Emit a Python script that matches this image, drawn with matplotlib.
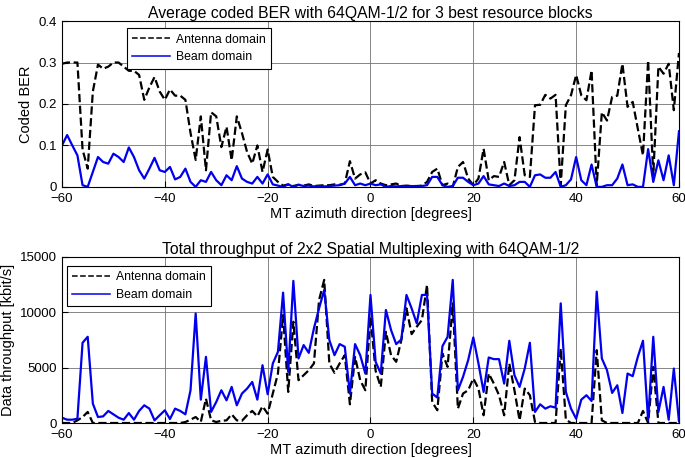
import numpy as np
import matplotlib
matplotlib.use("Agg")
import matplotlib.pyplot as plt

plt.rcParams['font.family'] = ['Liberation Sans', 'DejaVu Sans']

# ---------------- data ----------------
azimuth = np.arange(-60, 61, 1)

ber_antenna = [
    0.297, 0.30, 0.30, 0.30, 0.09, 0.044, 0.23, 0.295, 0.285, 0.29,      # -60..-51
    0.30, 0.30, 0.29, 0.28, 0.28, 0.27, 0.21, 0.24, 0.265, 0.23,         # -50..-41
    0.21, 0.235, 0.22, 0.22, 0.21, 0.13, 0.065, 0.17, 0.04, 0.18,        # -40..-31
    0.17, 0.096, 0.145, 0.064, 0.17, 0.13, 0.084, 0.056, 0.10, 0.036,    # -30..-21
    0.09, 0.024, 0.012, 0.003, 0.006, 0.002, 0.005, 0.003, 0.006, 0.002, # -20..-11
    0.003, 0.004, 0.004, 0.006, 0.005, 0.008, 0.062, 0.02, 0.03, 0.035,  # -10..-1
    0.008, 0.016, 0.008, 0.004, 0.006, 0.008, 0.002, 0.003, 0.002, 0.002, # 0..9
    0.003, 0.012, 0.036, 0.044, 0.004, 0.008, 0.0, 0.048, 0.06, 0.02,    # 10..19
    0.004, 0.02, 0.092, 0.016, 0.026, 0.024, 0.06, 0.004, 0.016, 0.12,   # 20..29
    0.028, 0.024, 0.197, 0.198, 0.222, 0.213, 0.222, 0.004, 0.197, 0.221, # 30..39
    0.27, 0.221, 0.209, 0.281, 0.004, 0.18, 0.16, 0.217, 0.22, 0.297,    # 40..49
    0.193, 0.205, 0.14, 0.076, 0.305, 0.028, 0.29, 0.273, 0.297, 0.185, # 50..59
    0.323,                                                               # 60
]

ber_beam = [
    0.10, 0.125, 0.10, 0.076, 0.004, 0.0, 0.036, 0.072, 0.06, 0.056,     # -60..-51
    0.08, 0.072, 0.06, 0.095, 0.072, 0.04, 0.02, 0.044, 0.07, 0.04,      # -50..-41
    0.036, 0.048, 0.018, 0.024, 0.044, 0.012, 0.0, 0.016, 0.012, 0.036,  # -40..-31
    0.016, 0.004, 0.028, 0.016, 0.05, 0.02, 0.012, 0.008, 0.024, 0.008,  # -30..-21
    0.03, 0.006, 0.003, 0.0, 0.006, 0.0, 0.005, 0.002, 0.003, 0.001,     # -20..-11
    0.002, 0.001, 0.002, 0.003, 0.004, 0.008, 0.024, 0.004, 0.008, 0.004, # -10..-1
    0.008, 0.004, 0.006, 0.0, 0.002, 0.001, 0.002, 0.001, 0.002, 0.001,  # 0..9
    0.002, 0.004, 0.024, 0.024, 0.004, 0.0, 0.002, 0.022, 0.022, 0.012,  # 10..19
    0.004, 0.008, 0.026, 0.006, 0.004, 0.002, 0.008, 0.002, 0.004, 0.012, # 20..29
    0.012, 0.0, 0.028, 0.03, 0.022, 0.022, 0.036, 0.0, 0.004, 0.018,     # 30..39
    0.072, 0.016, 0.004, 0.054, 0.0, 0.0, 0.004, 0.004, 0.02, 0.054,     # 40..49
    0.004, 0.006, 0.0, 0.0, 0.091, 0.012, 0.064, 0.016, 0.076, 0.004,    # 50..59
    0.134,                                                               # 60
]

thr_antenna = [
    0, 0, 0, 240, 540, 1000, 0, 0, 0, 0,                                 # -60..-51
    0, 0, 0, 0, 0, 0, 0, 0, 0, 0,                                        # -50..-41
    0, 0, 0, 0, 90, 300, 540, 100, 2200, 240,                            # -40..-31
    90, 200, 240, 785, 240, 200, 700, 1090, 600, 1510,                   # -30..-21
    845, 2660, 4470, 9750, 2810, 9150, 3870, 4320, 4770, 5380,           # -20..-11
    11110, 12930, 5380, 4530, 5380, 6130, 1690, 5980, 3870, 2960,        # -10..-1
    9600, 4710, 3260, 8240, 6130, 5530, 7490, 10360, 8030, 8700,         # 0..9
    9300, 12470, 1900, 1150, 6280, 5070, 10810, 1300, 2660, 2960,        # 10..19
    4020, 3110, 700, 4470, 3560, 2510, 700, 5380, 2960, 240,             # 20..29
    3110, 2510, 90, 0, 0, 0, 0, 6730, 300, 0,                            # 30..39
    0, 0, 0, 0, 6580, 240, 0, 0, 0, 0,                                   # 40..49
    0, 0, 0, 1090, 0, 5070, 0, 0, 0, 0,                                  # 50..59
    0,                                                                   # 60
]

thr_beam = [
    480, 300, 300, 390, 7250, 7790, 1750, 540, 600, 1090,                # -60..-51
    785, 480, 300, 900, 300, 1090, 1600, 1300, 240, 700,                 # -50..-41
    1150, 360, 1300, 1090, 785, 2960, 9900, 2110, 5980, 1000,            # -40..-31
    1900, 2960, 2050, 3260, 1600, 2660, 3110, 3710, 2110, 5220,          # -30..-21
    2600, 5375, 6430, 11780, 4620, 12840, 5830, 7040, 6340, 8550,        # -20..-11
    10360, 12020, 7490, 6130, 7130, 6890, 2660, 7130, 6130, 4470,        # -10..-1
    11570, 5530, 4470, 10210, 8400, 7130, 7550, 11570, 10360, 9000,      # 0..9
    11570, 11570, 2660, 2300, 6950, 7790, 12930, 2960, 4170, 5680,       # 10..19
    7730, 5380, 2810, 5920, 5770, 5770, 3560, 7430, 4320, 3260,          # 20..29
    4920, 7250, 1000, 1690, 1300, 1510, 1390, 10810, 2810, 1300,         # 30..39
    390, 2110, 2510, 1990, 11870, 5830, 4770, 2720, 3410, 905,           # 40..49
    4470, 4230, 5980, 7430, 240, 7790, 1000, 3260, 300, 4920,            # 50..59
    150,                                                                 # 60
]

# ---------------- figure ----------------
fig = plt.figure(figsize=(6.85, 4.58), dpi=100)
ax1 = fig.add_axes([0.0905, 0.592, 0.9007, 0.362])
ax2 = fig.add_axes([0.0905, 0.0764, 0.9007, 0.3625])

def style(ax):
    ax.set_xlim(-60, 60)
    ax.set_xticks(np.arange(-60, 61, 20))
    ax.grid(True, color='0.45', linewidth=0.6)
    ax.tick_params(direction='in', labelsize=9.5, length=4)
    ax.tick_params(axis='x', pad=4.5)
    for s in ax.spines.values():
        s.set_linewidth(0.8)

def add_legend(ax, anchor):
    leg = ax.legend(loc='upper left', bbox_to_anchor=anchor, fontsize=8.8,
                    fancybox=False, edgecolor='k', framealpha=1,
                    handlelength=3.1, handletextpad=0.45, borderpad=0.45,
                    labelspacing=0.45, borderaxespad=0.0)
    leg.get_frame().set_linewidth(0.8)
    for line in leg.get_lines():
        line.set_linewidth(1.1)

# top: coded BER
ax1.plot(azimuth, ber_antenna, 'k--', linewidth=1.6, label='Antenna domain')
ax1.plot(azimuth, ber_beam, color='#0000ee', linewidth=1.6, label='Beam domain')
style(ax1)
ax1.set_ylim(0, 0.4)
ax1.set_yticks([0, 0.1, 0.2, 0.3, 0.4])
ax1.set_yticklabels(['0', '0.1', '0.2', '0.3', '0.4'])
ax1.set_title('Average coded BER with 64QAM-1/2 for 3 best resource blocks', fontsize=11.3, pad=2)
ax1.set_xlabel('MT azimuth direction [degrees]', fontsize=10.5, labelpad=1)
ax1.set_ylabel('Coded BER', fontsize=10.5)
add_legend(ax1, (0.105, 0.958))

# bottom: throughput
ax2.plot(azimuth, thr_antenna, 'k--', linewidth=1.6, label='Antenna domain')
ax2.plot(azimuth, thr_beam, color='#0000ee', linewidth=1.6, label='Beam domain')
style(ax2)
ax2.set_ylim(0, 15000)
ax2.set_yticks([0, 5000, 10000, 15000])
ax2.set_title('Total throughput of 2x2 Spatial Multiplexing with 64QAM-1/2', fontsize=11.3, pad=2)
ax2.set_xlabel('MT azimuth direction [degrees]', fontsize=10.5, labelpad=1)
ax2.set_ylabel('Data throughput [kbit/s]', fontsize=10.5)
add_legend(ax2, (0.008, 0.946))

fig.savefig('out.png', dpi=100)
